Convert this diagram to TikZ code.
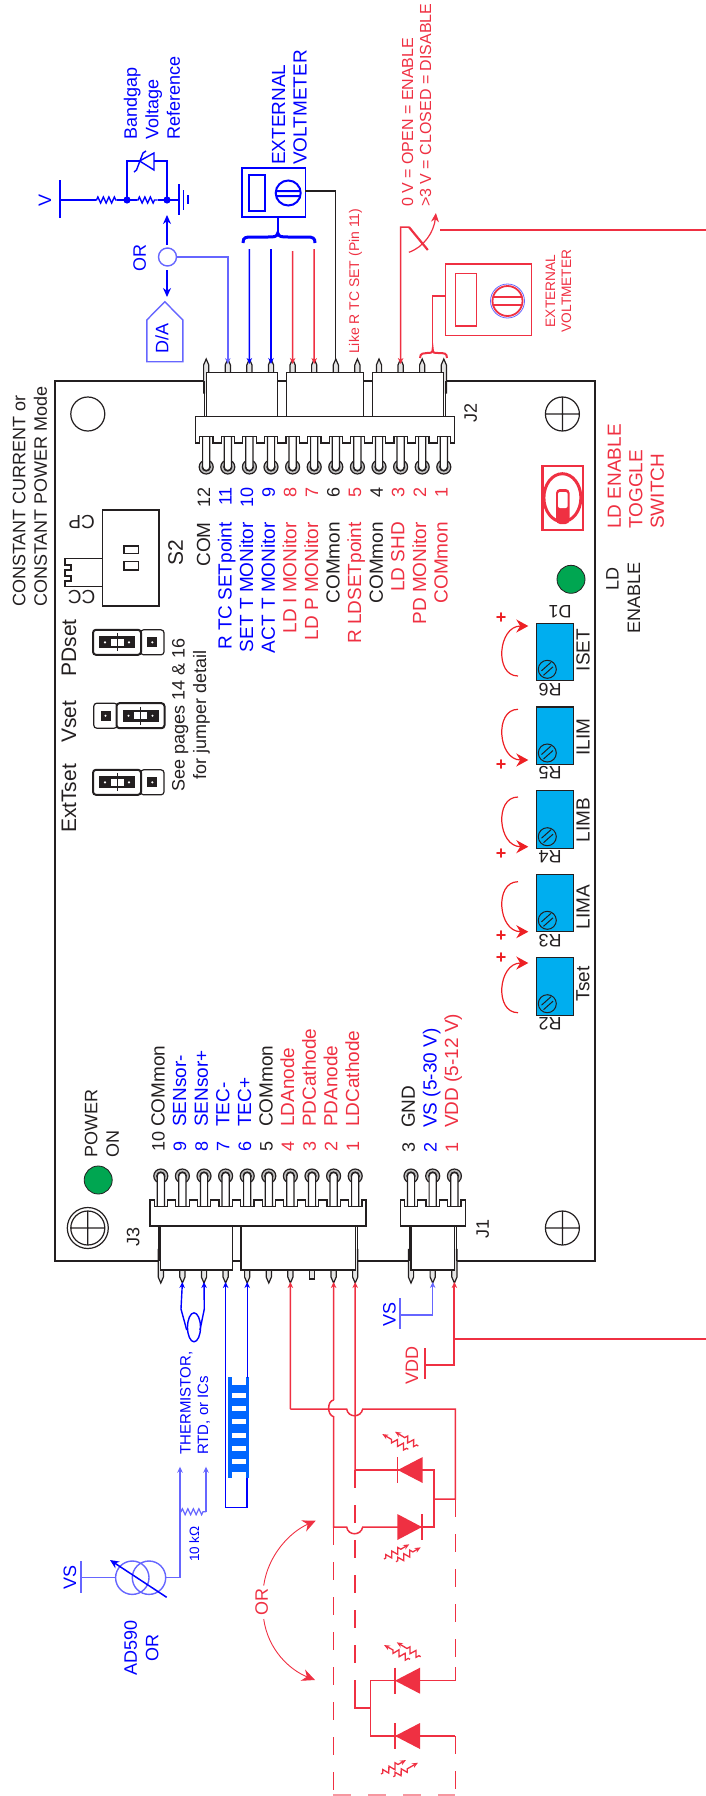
\documentclass[tikz,border=0pt]{standalone}
\usepackage{fontspec}
\setmainfont{Liberation Sans}
\usetikzlibrary{arrows.meta,decorations.pathmorphing}
\definecolor{boardBlack}{HTML}{231F20}
\definecolor{wireBlue}{HTML}{0000FF}
\definecolor{lightBlue}{HTML}{6666FF}
\definecolor{combBlue}{HTML}{0066FF}
\definecolor{wireRed}{HTML}{EF3042}
\definecolor{potRed}{HTML}{ED2024}
\definecolor{potCyan}{HTML}{00AEEF}
\definecolor{ledGreen}{HTML}{00A651}
\newcommand{\smallFont}{\fontsize{14}{17}\selectfont}
\newcommand{\noteFont}{\fontsize{16}{18}\selectfont}
\newcommand{\mainFont}{\fontsize{18}{21.5}\selectfont}
\newcommand{\labelFont}{\fontsize{19}{21.5}\selectfont}
\newcommand{\bigFont}{\fontsize{21}{24}\selectfont}
\tikzstyle{sideText} = [rotate=90, inner sep=0pt, align=left]
\tikzstyle{flipText} = [rotate=180, inner sep=0pt]
\tikzstyle{boardLine} = [color=boardBlack, line width=1.2pt]
\tikzstyle{blueWire} = [color=wireBlue, line width=1.4pt]
\tikzstyle{paleWire} = [color=lightBlue, line width=1.4pt]
\tikzstyle{redWire} = [color=wireRed, line width=1.5pt]
\tikzstyle{redDash} = [redWire, dash pattern=on 18pt off 17pt]
\tikzstyle{pinArrow} = [-{Stealth[length=6pt,width=5.5pt]}]
\tikzstyle{bigArrow} = [-{Stealth[length=9pt,width=8pt]}]
\tikzstyle{potArrowLine} = [color=potRed, line width=1.2pt, -{Stealth[length=12pt,width=13pt]}]
\tikzstyle{resistorLine} = [decorate, decoration={zigzag, segment length=5.5pt, amplitude=3pt, pre length=1pt, post length=1pt}]
\tikzstyle{rayLine} = [color=wireRed, line width=1.3pt, -{Stealth[length=6pt,width=5pt,open]}, decorate, decoration={zigzag, segment length=7pt, amplitude=3pt, pre length=2pt, post length=9pt}]
\newcommand{\headerBlock}[7]{\filldraw [boardLine, fill=white] (#2,#5) -- (#1,#5) -- (#1,#6) \foreach \slot in {0,...,#4} { -- ({#3+21.6*\slot-6.7},#6) -- ({#3+21.6*\slot-6.7},#7) -- ({#3+21.6*\slot+6.7},#7) -- ({#3+21.6*\slot+6.7},#6) } -- (#2,#6) -- cycle;}
\newcommand{\headerPin}[5]{
  \filldraw [boardLine, fill=black!25] (#1,#2) circle (7);
  \draw [boardLine] (#1,#2) circle (4);
  \filldraw [boardLine, fill=white] (#1-3.6,#3) -- (#1-3.6,#2) .. controls (#1-3.6,{#2+0.15*(#2-#3)}) and (#1+3.6,{#2+0.15*(#2-#3)}) .. (#1+3.6,#2) -- (#1+3.6,#3);
  \filldraw [boardLine, fill=black!10] (#1-2.6,{#4+0.4*(#3-#4)}) -- (#1-2.6,#4) -- (#1,#5) -- (#1+2.6,#4) -- (#1+2.6,{#4+0.4*(#3-#4)});
}
\newcommand{\jumperPin}[2]{
  \filldraw [boardLine, fill=white, rounded corners=3pt] (#1-11.7,#2-12.5) rectangle +(23.4,25);
  \fill [boardBlack] (#1-5,#2-5) rectangle +(10,10);
  \fill [white] (#1,#2) circle (1.2);
}
\newcommand{\jumperCap}[2]{
  \filldraw [boardLine, fill=white, line width=2pt, rounded corners=3pt] (#1-24,#2-12.5) rectangle +(48,25);
  \fill [boardBlack] (#1-18,#2-6) rectangle +(36,12);
  \filldraw [boardLine, fill=white, line width=.8pt] (#1-7,#2-4) rectangle +(14,8);
  \draw [boardLine, line width=.8pt] (#1,#2-9) -- (#1,#2+9);
  \fill [white] (#1-12,#2) circle (1.2) (#1+12,#2) circle (1.2);
}
\newcommand{\trimPot}[4]{
  \filldraw [boardLine, fill=potCyan] (536.7,#1) rectangle +(36.6,57.4);
  \draw [boardLine, line width=1pt] (547.3,#1+46) circle (9);
  \draw [boardLine, line width=1pt] (541.5,#1+47.5) -- (551,#1+39) (543.5,#1+52) -- (553,#1+43.5);
  \node [sideText, font=\labelFont, text=boardBlack] (#2Text) at (583,#3) {#2};
  \node [flipText, font=\mainFont, text=boardBlack] (#4Text) at (550,#1+66) {#4};
}
\newcommand{\potArrow}[2]{\draw [potArrowLine] (518,#1) .. controls (494,#1) and (498,#2) .. (528.3,#2);}
\newcommand{\potPlus}[2]{\node [font=\bfseries\mainFont, text=potRed] (plus#1) at (501,#2) {+};}
\newcommand{\laserDiode}[3]{
  \fill [wireRed] (#3,#2-13) -- (#1,#2) -- (#3,#2+13) -- cycle;
  \draw [redWire] (#1,#2-13) -- (#1,#2+13);
}
\begin{document}
\begin{tikzpicture}[x=1pt, y=-1pt, every node/.style={inner sep=0pt}]
\useasboundingbox (0,0) rectangle (706,1796);

% board and mounting holes
\draw [boardLine] (55,381) rectangle (595,1261);
\draw [boardLine] (87.8,414) circle (17);
\draw [boardLine] (562.4,414) circle (17) (545.4,414) -- (579.4,414) (562.4,397) -- (562.4,431);
\draw [boardLine] (87.8,1228) circle (17) (87.8,1228) circle (20.5) (70.8,1228) -- (104.8,1228) (87.8,1211) -- (87.8,1245);
\draw [boardLine] (562.4,1228) circle (17) (545.4,1228) -- (579.4,1228) (562.4,1211) -- (562.4,1245);

% J2 connector
\foreach \pinNum in {1,...,12} {
  \pgfmathsetmacro{\pinX}{206.2 + 21.6 * (12 - \pinNum)}
  \headerPin{\pinX}{467}{436.3}{365}{359}
  \coordinate (jtwoTip\pinNum) at (\pinX,364);
}
\filldraw [boardLine, fill=white] (206.2,416.7) -- (206.2,372.7) -- (277.4,372.7) -- (277.4,416.7) -- (286.4,416.7) -- (286.4,372.7) -- (363.8,372.7) -- (363.8,416.7) -- (372.4,416.7) -- (372.4,372.7) -- (443.6,372.7) -- (443.6,416.7);
\draw [boardLine] (204.4,381) -- (204.4,416.7) (445.6,381) -- (445.6,416.7);
\headerBlock{195.4}{454.8}{206.2}{11}{416.7}{443}{436.3}
\foreach \pinNum/\pinColor/\pinText in {12/boardBlack/COM, 11/wireBlue/R TC SETpoint, 10/wireBlue/SET T MONitor, 9/wireBlue/ACT T MONitor, 8/wireRed/LD I MONitor, 7/wireRed/LD P MONitor, 6/boardBlack/COMmon, 5/wireRed/R LDSETpoint, 4/boardBlack/COMmon, 3/wireRed/LD SHD, 2/wireRed/PD MONitor, 1/wireRed/COMmon} {
  \pgfmathsetmacro{\pinX}{206.2 + 21.6 * (12 - \pinNum)}
  \node [sideText, anchor=mid east, font=\mainFont, text=\pinColor] (jtwoNum\pinNum) at (\pinX+1.2,487) {\pinNum};
  \node [sideText, anchor=mid east, font=\labelFont, text=\pinColor] (jtwoText\pinNum) at (\pinX+1.2,522) {\pinText};
}

% J3 connector
\foreach \pinNum in {1,...,10} {
  \pgfmathsetmacro{\pinX}{160.8 + 21.6 * (10 - \pinNum)}
  \ifnum\pinNum=3
    \headerPin{\pinX}{1176}{1206.7}{1279}{1279}
  \else
    \headerPin{\pinX}{1176}{1206.7}{1277}{1283}
  \fi
  \coordinate (jthreeTip\pinNum) at (\pinX,1282);
}
\filldraw [boardLine, fill=white] (160.8,1226) -- (160.8,1270) -- (232.4,1270) -- (232.4,1226) -- (240.9,1226) -- (240.9,1270) -- (355.7,1270) -- (355.7,1226);
\draw [boardLine] (159,1226) -- (159,1261) (357.5,1226) -- (357.5,1261);
\headerBlock{150}{366}{160.8}{9}{1226}{1200}{1206.7}
\foreach \pinNum/\pinColor/\pinText in {10/boardBlack/COMmon, 9/wireBlue/SENsor-, 8/wireBlue/SENsor+, 7/wireBlue/TEC-, 6/wireBlue/TEC+, 5/boardBlack/COMmon, 4/wireRed/LDAnode, 3/wireRed/PDCathode, 2/wireRed/PDAnode, 1/wireRed/LDCathode} {
  \pgfmathsetmacro{\pinX}{160.8 + 21.6 * (10 - \pinNum)}
  \node [sideText, anchor=mid west, font=\mainFont, text=\pinColor] (jthreeNum\pinNum) at (\pinX+1.2,1152) {\pinNum};
  \node [sideText, anchor=mid west, font=\labelFont, text=\pinColor] (jthreeText\pinNum) at (\pinX+1.2,1127) {\pinText};
}

% J1 connector
\foreach \pinNum in {1,2,3} {
  \pgfmathsetmacro{\pinX}{411 + 21.7 * (3 - \pinNum)}
  \headerPin{\pinX}{1176}{1206.7}{1277}{1283}
  \coordinate (joneTip\pinNum) at (\pinX,1282);
}
\filldraw [boardLine, fill=white] (411,1226) -- (411,1270) -- (454.4,1270) -- (454.4,1226);
\draw [boardLine] (409.2,1226) -- (409.2,1261) (456.2,1226) -- (456.2,1261);
\headerBlock{400.3}{465.6}{411}{2}{1226}{1200}{1206.7}
\foreach \pinNum/\pinColor/\pinText in {3/boardBlack/GND, 2/wireBlue/VS (5-30 V), 1/wireRed/VDD (5-12 V)} {
  \pgfmathsetmacro{\pinX}{411 + 21.7 * (3 - \pinNum)}
  \node [sideText, anchor=mid west, font=\mainFont, text=\pinColor] (joneNum\pinNum) at (\pinX+1.2,1153) {\pinNum};
  \node [sideText, anchor=mid west, font=\labelFont, text=\pinColor] (joneText\pinNum) at (\pinX+1.2,1128) {\pinText};
}

\node [sideText, font=\mainFont, text=boardBlack] (jtwoName) at (470.6,413) {J2};
\node [sideText, font=\mainFont, text=boardBlack] (jthreeName) at (133.3,1237) {J3};
\node [sideText, font=\mainFont, text=boardBlack] (joneName) at (482.7,1229) {J1};

% mode switch
\node [sideText, anchor=west, font=\mainFont, text=boardBlack] (modeTitle) at (30,607) {CONSTANT CURRENT or\\CONSTANT POWER Mode};
\filldraw [boardLine, fill=white] (65,558.3) -- (102.7,558.3) -- (102.7,586.7) -- (65,586.7) -- (65,581) -- (71,581) -- (71,576) -- (65,576) -- (65,570) -- (71,570) -- (71,565) -- (65,565) -- cycle;
\filldraw [boardLine, fill=white] (102.7,510) rectangle (159,606);
\draw [boardLine] (124,546) rectangle (138.3,553.3) (124,561.7) rectangle (138.3,570);
\node [sideText, font=\bigFont, text=boardBlack] (switchName) at (175.6,553) {S2};
\node [flipText, font=\labelFont, text=boardBlack] (switchCP) at (81.7,521.7) {CP};
\node [flipText, font=\labelFont, text=boardBlack] (switchCC) at (81.7,596.7) {CC};

% jumpers
\foreach \jumperY/\jumperText/\jumperTextY in {642.3/PDset/648, 715.7/Vset/721.5, 782.3/ExtTset/798.5} {
  \foreach \pinX in {105.5,129,152.3} {
    \jumperPin{\pinX}{\jumperY}
  }
  \node [sideText, font=\bigFont, text=boardBlack] (\jumperText Text) at (69,\jumperTextY) {\jumperText};
}
\jumperCap{117}{642.3}
\jumperCap{140.5}{715.7}
\jumperCap{117}{782.3}
\node [sideText, align=center, font=\mainFont, text=boardBlack] (jumperNote) at (191,715) {See pages 14 \& 16\\for jumper detail};

% leds
\filldraw [boardLine, fill=ledGreen, line width=.8pt] (98.2,1180) circle (14);
\node [sideText, anchor=west, font=\mainFont, text=boardBlack] (powerText) at (102,1157.7) {POWER\\ON};
\filldraw [boardLine, fill=ledGreen, line width=.8pt] (571,579.3) circle (14);
\node [sideText, font=\mainFont, text=boardBlack] (ledLd) at (612.4,579) {LD};
\node [sideText, font=\mainFont, text=boardBlack] (ledEnable) at (634,598) {ENABLE};

% toggle switch
\draw [wireRed, line width=2.4pt] (542.6,466) rectangle (583.2,530);
\draw [wireRed, line width=3pt] (562.4,497.7) ellipse (18.5 and 24);
\fill [wireRed, rounded corners=4pt] (556,489) rectangle (569.6,524);
\fill [white, rounded corners=2pt] (558,492) rectangle (567.6,508);
\node [sideText, anchor=west, font=\labelFont, text=wireRed] (toggleText) at (636,529) {LD ENABLE\\TOGGLE\\SWITCH};

% trim pots
\trimPot{623.3}{ISET}{650}{R6}
\trimPot{707}{ILIM}{737.3}{R5}
\trimPot{790.7}{LIMB}{820}{R4}
\trimPot{874.3}{LIMA}{907}{R3}
\trimPot{957.7}{Tset}{984}{R2}
\node [flipText, font=\mainFont, text=boardBlack] (ledDone) at (560,611.7) {D1};
\potArrow{676}{626}
\potArrow{709.3}{760}
\potArrow{797}{846.7}
\potArrow{881.7}{931.7}
\potArrow{1012.7}{963}
\potPlus{Iset}{618.3}
\potPlus{Ilim}{765}
\potPlus{Limb}{854}
\potPlus{Lima}{936}
\potPlus{Tset}{958}

% bandgap reference
\node [sideText, font=\mainFont, text=wireBlue] (vLabel) at (45,200) {V};
\coordinate (vBarTop) at (60,180);
\coordinate (vBarEnd) at (60,218);
\coordinate (vBarMid) at (60,200);
\coordinate (resOneIn) at (95.5,200);
\coordinate (refDotA) at (127,200);
\coordinate (refDotB) at (167,200);
\coordinate (groundIn) at (178.8,200);
\draw [blueWire] (vBarTop) -- (vBarEnd);
\draw [blueWire] (vBarMid) -- (resOneIn);
\draw [blueWire, resistorLine] (resOneIn) -- (117,200);
\draw [blueWire] (117,200) -- (refDotA) -- (137,200);
\draw [blueWire, resistorLine] (137,200) -- (157.6,200);
\draw [blueWire] (157.6,200) -- (groundIn);
\fill [wireBlue] (refDotA) circle (3.6) (refDotB) circle (3.6);
\draw [blueWire] (178.8,184) -- (178.8,215) (183.3,190) -- (183.3,210) (187.8,195) -- (187.8,204);
\draw [blueWire] (refDotA) -- (127,161) -- (139.6,161) (154,161) -- (167,161) -- (refDotB);
\draw [blueWire] (154,153) -- (154,170) -- (139.6,161) -- cycle;
\draw [blueWire] (146,151) -- (143,153) -- (136.5,170) -- (134,172);
\node [sideText, anchor=west, font=\mainFont, text=wireBlue] (refText) at (152,139.5) {Bandgap\\Voltage\\Reference};

% OR selector and D/A
\draw [paleWire] (167.5,257) circle (9);
\node [sideText, font=\mainFont, text=wireBlue] (orBlue) at (139.6,258) {OR};
\draw [blueWire, bigArrow] (167,245) -- (167,215);
\draw [blueWire, bigArrow] (167,270) -- (167,297);
\coordinate (orWireOut) at (176.5,257);
\coordinate (orWireTurn) at (jtwoTip11 |- orWireOut);
\draw [paleWire, pinArrow] (orWireOut) -- (orWireTurn) -- (jtwoTip11);
\draw [paleWire] (164.8,301.7) -- (182.8,320) -- (182.8,361.7) -- (146.8,361.7) -- (146.8,320) -- cycle;
\node [sideText, font=\mainFont, text=wireBlue] (daText) at (162,338) {D/A};

% blue voltmeter
\draw [blueWire] (241.8,168) rectangle (305.3,217);
\draw [blueWire] (249,175) rectangle (264.8,211);
\draw [wireBlue, line width=2pt] (288.2,193) circle (12.5) (275.6,191) -- (300.8,191) (275.6,196) -- (300.8,196);
\node [sideText, anchor=west, font=\labelFont, text=wireBlue] (meterText) at (289.5,165) {EXTERNAL\\VOLTMETER};
\draw [blueWire] (277.8,217) -- (277.8,233);
\draw [wireBlue, line width=3pt] (243,243) .. controls (243,237) and (246,237) .. (252,237) -- (268,237) .. controls (274,237) and (277,237) .. (277.8,233) .. controls (278.6,237) and (282,237) .. (288,237) -- (307,237) .. controls (313,237) and (315,238) .. (315,243);
\coordinate (meterOut) at (305.3,191);
\coordinate (meterTurn) at (335.8,191);
\draw [boardLine] (meterOut) -- (meterTurn) -- (335.8,359);
\draw [blueWire, pinArrow] (249.4,249) -- (jtwoTip10);
\draw [blueWire, pinArrow] (271,249) -- (jtwoTip9);
\draw [redWire, pinArrow] (292.6,251) -- (jtwoTip8);
\draw [redWire, pinArrow] (314.2,249) -- (jtwoTip7);
\node [sideText, anchor=mid west, font=\smallFont, text=wireRed] (likeText) at (356.5,354) {Like R TC SET (Pin 11)};

% enable switch
\node [sideText, anchor=west, font=\noteFont, text=wireRed] (enableText) at (416.5,207) {0 V = OPEN = ENABLE\\>3 V = CLOSED = DISABLE};
\coordinate (armTop) at (408.9,227);
\coordinate (switchRun) at (440.4,230);
\coordinate (switchEnd) at (706,230);
\draw [redWire, pinArrow] (armTop) -- (400.6,227) -- (jtwoTip3);
\draw [wireRed, line width=2.2pt] (armTop) -- (427.8,250);
\draw [redWire, line width=1.2pt, bigArrow] (408.9,252.3) .. controls (424,247) and (434,232) .. (435.9,213);
\draw [redWire] (switchRun) -- (switchEnd);

% red voltmeter
\draw [redWire] (445.4,264) rectangle (531.4,335.7);
\draw [redWire] (455.3,273.7) rectangle (476.4,326);
\draw [lightBlue, line width=.8pt] (507.5,301) circle (17);
\draw [wireRed, line width=1.8pt] (507.5,301) circle (15) (493,297) -- (522,297) (493,305) -- (522,305);
\node [sideText, align=center, font=\fontsize{13.7}{16}\selectfont, text=wireRed] (redMeterText) at (558.5,291) {EXTERNAL\\VOLTMETER};
\draw [redWire] (445.4,296) -- (432.7,296) -- (432.7,349);
\draw [wireRed, line width=2pt] (420,358) .. controls (420,353) and (424,353) .. (427,353) .. controls (431,353) and (432.7,353) .. (432.7,349) .. controls (432.7,353) and (434,353) .. (438,353) .. controls (444,353) and (447,353) .. (447,358);

% power and sensor wires
\draw [blueWire, pinArrow] (181,1309) -- (jthreeTip9);
\draw [blueWire, pinArrow] (204.3,1309) -- (jthreeTip8);
\draw [blueWire] (181,1309) -- (186.7,1330) (204.3,1309) -- (200,1330);
\draw [blueWire] (194,1327.3) ellipse (6.5 and 14.5);
\node [sideText, anchor=west, font=\fontsize{15}{17.5}\selectfont, text=wireBlue] (sensorText) at (195,1455) {THERMISTOR,\\RTD, or ICs};

\fill [combBlue] (228.3,1377.3) rectangle (249.3,1478);
\fill [white] (232,1377) rectangle (246,1385);
\foreach \slitY in {1392.7,1406,1419.3,1432.7,1445.7,1459} {
  \fill [white] (231.7,\slitY) rectangle +(14.3,5);
}
\fill [white] (231.7,1471.7) rectangle (246,1478.5);
\coordinate (tecLoopIn) at (jthreeTip7 |- 0,1507.7);
\coordinate (tecLoopOut) at (247,1507.7);
\draw [blueWire, pinArrow] (tecLoopIn) -- (jthreeTip7);
\draw [blueWire] (tecLoopIn) -- (tecLoopOut) -- (247,1478);
\draw [blueWire, pinArrow] (jthreeTip6 |- 0,1378) -- (jthreeTip6);

\coordinate (vsBarMid) at (400,1315);
\draw [paleWire, pinArrow] (vsBarMid) -- (joneTip2 |- vsBarMid) -- (joneTip2);
\draw [paleWire] (400,1298.3) -- (400,1329);
\node [sideText, font=\mainFont, text=wireBlue] (vsRight) at (389.5,1314) {VS};
\coordinate (vddBarMid) at (424.6,1365);
\draw [wireRed, line width=2pt, pinArrow] (vddBarMid) -- (joneTip1 |- vddBarMid) -- (joneTip1);
\draw [wireRed, line width=2pt] (424.6,1348) -- (424.6,1379);
\draw [wireRed, line width=2pt] (joneTip1 |- 0,1339) -- (706,1339);
\node [sideText, font=\mainFont, text=wireRed] (vddText) at (412,1365) {VDD};

% AD590 sensor
\coordinate (sourceWire) at (180,1577.7);
\draw [paleWire, pinArrow] (sourceWire) -- (180,1466.7);
\draw [paleWire] (sourceWire) -- (165.7,1577.7);
\draw [paleWire, pinArrow] (206,1511.7) -- (206,1466.7);
\draw [paleWire, line width=1.2pt, resistorLine] (180,1511.7) -- (206,1511.7);
\node [sideText, font=\fontsize{13.5}{16}\selectfont, text=wireBlue] (kohmText) at (194.3,1544) {10 k\symbol{"03A9}};
\draw [paleWire] (132.3,1577.7) circle (16.7) (149,1577.7) circle (16.7);
\draw [paleWire] (115.6,1577.7) -- (81,1577.7) (81,1561) -- (81,1592.7);
\draw [wireBlue, line width=1.5pt, bigArrow] (166.7,1597.3) -- (110,1560);
\node [sideText, font=\mainFont, text=wireBlue] (vsLeft) at (70,1577) {VS};
\node [sideText, align=center, font=\mainFont, text=wireBlue] (adText) at (141.5,1648) {AD590\\OR};

% laser diode wiring
\draw [redWire, pinArrow] (290.4,1409) -- (jthreeTip4);
\draw [redWire] (290.4,1409) -- (346.7,1409) .. controls (348,1418) and (361,1418) .. (362.7,1409) -- (455.3,1409) -- (455.3,1499) -- (434,1499);
\draw [redWire, pinArrow] (333.6,1400) -- (jthreeTip2);
\draw [redWire] (333.6,1400) .. controls (327,1401) and (327,1415) .. (333.6,1416.7) -- (333.6,1527) -- (346.7,1527) .. controls (348,1536) and (361,1536) .. (362.7,1527) -- (400,1527);
\draw [redWire, pinArrow] (355.2,1470) -- (jthreeTip1);
\draw [redWire] (355.2,1470) -- (400,1470);
\draw [redWire] (420,1470) -- (434,1470) -- (434,1527) -- (420,1527);
\laserDiode{397.7}{1470}{422.7}
\laserDiode{422}{1527}{397.3}
\draw [redDash] (333.3,1527) -- (333.3,1795);
\draw [redDash, opacity=.5] (333.3,1795) -- (455.3,1795);
\draw [redDash] (355,1470) -- (355,1691.7);
\draw [redWire] (355,1691.7) -- (355,1708) -- (370.7,1708);
\draw [redDash] (455.3,1499) -- (455.3,1667);
\draw [redWire] (455.3,1667) -- (455.3,1680.7) -- (418,1680.7);
\draw [redWire] (398,1680.7) -- (370.7,1680.7) -- (370.7,1736) -- (398,1736);
\draw [redWire] (418,1736) -- (455.3,1736);
\draw [redDash] (455.3,1736) -- (455.3,1795);
\laserDiode{395}{1680.7}{420}
\laserDiode{395}{1736}{420}
\draw [rayLine] (418.3,1446) -- (395,1431.7);
\draw [rayLine] (408.3,1449.3) -- (382.3,1434);
\draw [rayLine] (384,1559) -- (409.3,1544.3);
\draw [rayLine] (396,1561.7) -- (420.7,1547.3);
\draw [rayLine] (420.7,1656.7) -- (396.7,1642.3);
\draw [rayLine] (410,1659.3) -- (384,1645);
\draw [rayLine] (381,1774) -- (406,1760);
\draw [rayLine] (393.3,1776.7) -- (418,1762.7);
\node [sideText, font=\mainFont, text=wireRed] (orRed) at (261.7,1602.3) {OR};
\draw [wireRed, line width=.9pt, -{Stealth[length=13pt,width=12pt]}] (orRed.east) ++(2,-3) .. controls (268,1555) and (290,1532) .. (315.7,1520.7);
\draw [wireRed, line width=.9pt, -{Stealth[length=13pt,width=12pt]}] (orRed.west) ++(2,3) .. controls (268,1650) and (290,1670) .. (315,1680);
\end{tikzpicture}
\end{document}
